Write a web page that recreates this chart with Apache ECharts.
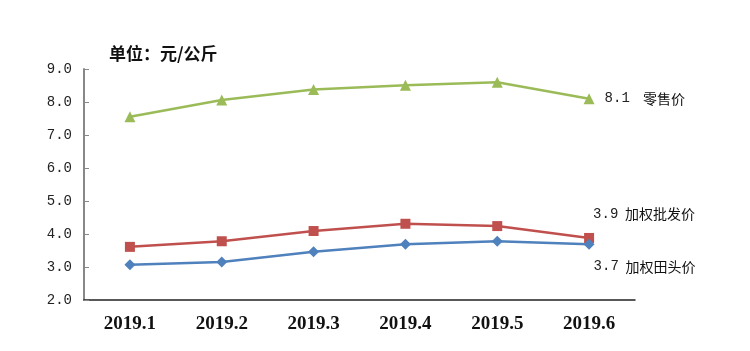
<!DOCTYPE html>
<html>
<head>
<meta charset="utf-8">
<script src="https://cdn.jsdelivr.net/npm/echarts@6/dist/echarts.min.js"></script>
<style>
  html, body { margin: 0; padding: 0; background: #fff; }
  #chart { width: 750px; height: 351px; }
</style>
</head>
<body>
<div id="chart"></div>
<script>
const months = ['2019.1', '2019.2', '2019.3', '2019.4', '2019.5', '2019.6'];
const retail = [7.55, 8.06, 8.38, 8.51, 8.6, 8.1];
const wholesale = [3.61, 3.78, 4.09, 4.31, 4.24, 3.88];
const farm = [3.07, 3.15, 3.46, 3.69, 3.78, 3.69];
const seriesNames = ['零售价', '加权批发价', '加权田头价'];
const yTicks = [2, 3, 4, 5, 6, 7, 8, 9];

const chart = echarts.init(document.getElementById('chart'));

// label only on the last point: value + series name
const endLabel = (values, name, offset, gap) => values.map((v, i) => {
  if (i !== values.length - 1) return v;
  return {
    value: v,
    label: {
      show: true,
      position: 'right',
      distance: 6,
      offset: offset,
      formatter: '{v|' + v.toFixed(1) + '}' + gap + '{n|' + name + '}',
      rich: {
        v: { fontFamily: 'Liberation Mono', fontSize: 14, color: '#222' },
        n: { fontFamily: 'Noto Sans CJK SC', fontSize: 14, color: '#111' }
      }
    }
  };
});

chart.setOption({
  animation: false,
  title: {
    text: '单位：元/公斤',
    left: 104,
    top: 40,
    textStyle: { fontFamily: 'Noto Sans CJK SC', fontSize: 17, fontWeight: 'bold', color: '#111' }
  },
  grid: { left: 84, top: 69, right: 115, bottom: 51 },
  xAxis: {
    type: 'category',
    data: months,
    boundaryGap: true,
    axisLine: { lineStyle: { color: '#222', width: 1.5 } },
    axisTick: { inside: true, length: 5, lineStyle: { color: '#555' } },
    axisLabel: {
      margin: 15,
      fontFamily: 'Liberation Serif',
      fontWeight: 'bold',
      fontSize: 19,
      color: '#111'
    }
  },
  yAxis: {
    type: 'value',
    min: yTicks[0],
    max: yTicks[yTicks.length - 1],
    interval: 1,
    splitLine: { show: false },
    axisLine: { show: true, lineStyle: { color: '#888', width: 2 } },
    axisTick: { show: true, inside: true, length: 5, lineStyle: { color: '#888' } },
    axisLabel: {
      margin: 12,
      fontFamily: 'Liberation Mono',
      fontSize: 14,
      color: '#222',
      formatter: v => v.toFixed(1)
    }
  },
  series: [
    {
      name: seriesNames[0],
      type: 'line',
      data: endLabel(retail, seriesNames[0], [4, 0], '    '),
      symbol: 'triangle',
      symbolSize: 11,
      lineStyle: { color: '#9BBB59', width: 2.5 },
      itemStyle: { color: '#9BBB59' }
    },
    {
      name: seriesNames[1],
      type: 'line',
      data: endLabel(wholesale, seriesNames[1], [-7, -24], '  '),
      symbol: 'rect',
      symbolSize: 10,
      lineStyle: { color: '#C0504D', width: 2.5 },
      itemStyle: { color: '#C0504D' }
    },
    {
      name: seriesNames[2],
      type: 'line',
      data: endLabel(farm, seriesNames[2], [-7, 22], '  '),
      symbol: 'diamond',
      symbolSize: 11,
      lineStyle: { color: '#4F81BD', width: 2.5 },
      itemStyle: { color: '#4F81BD' }
    }
  ]
});
</script>
</body>
</html>
